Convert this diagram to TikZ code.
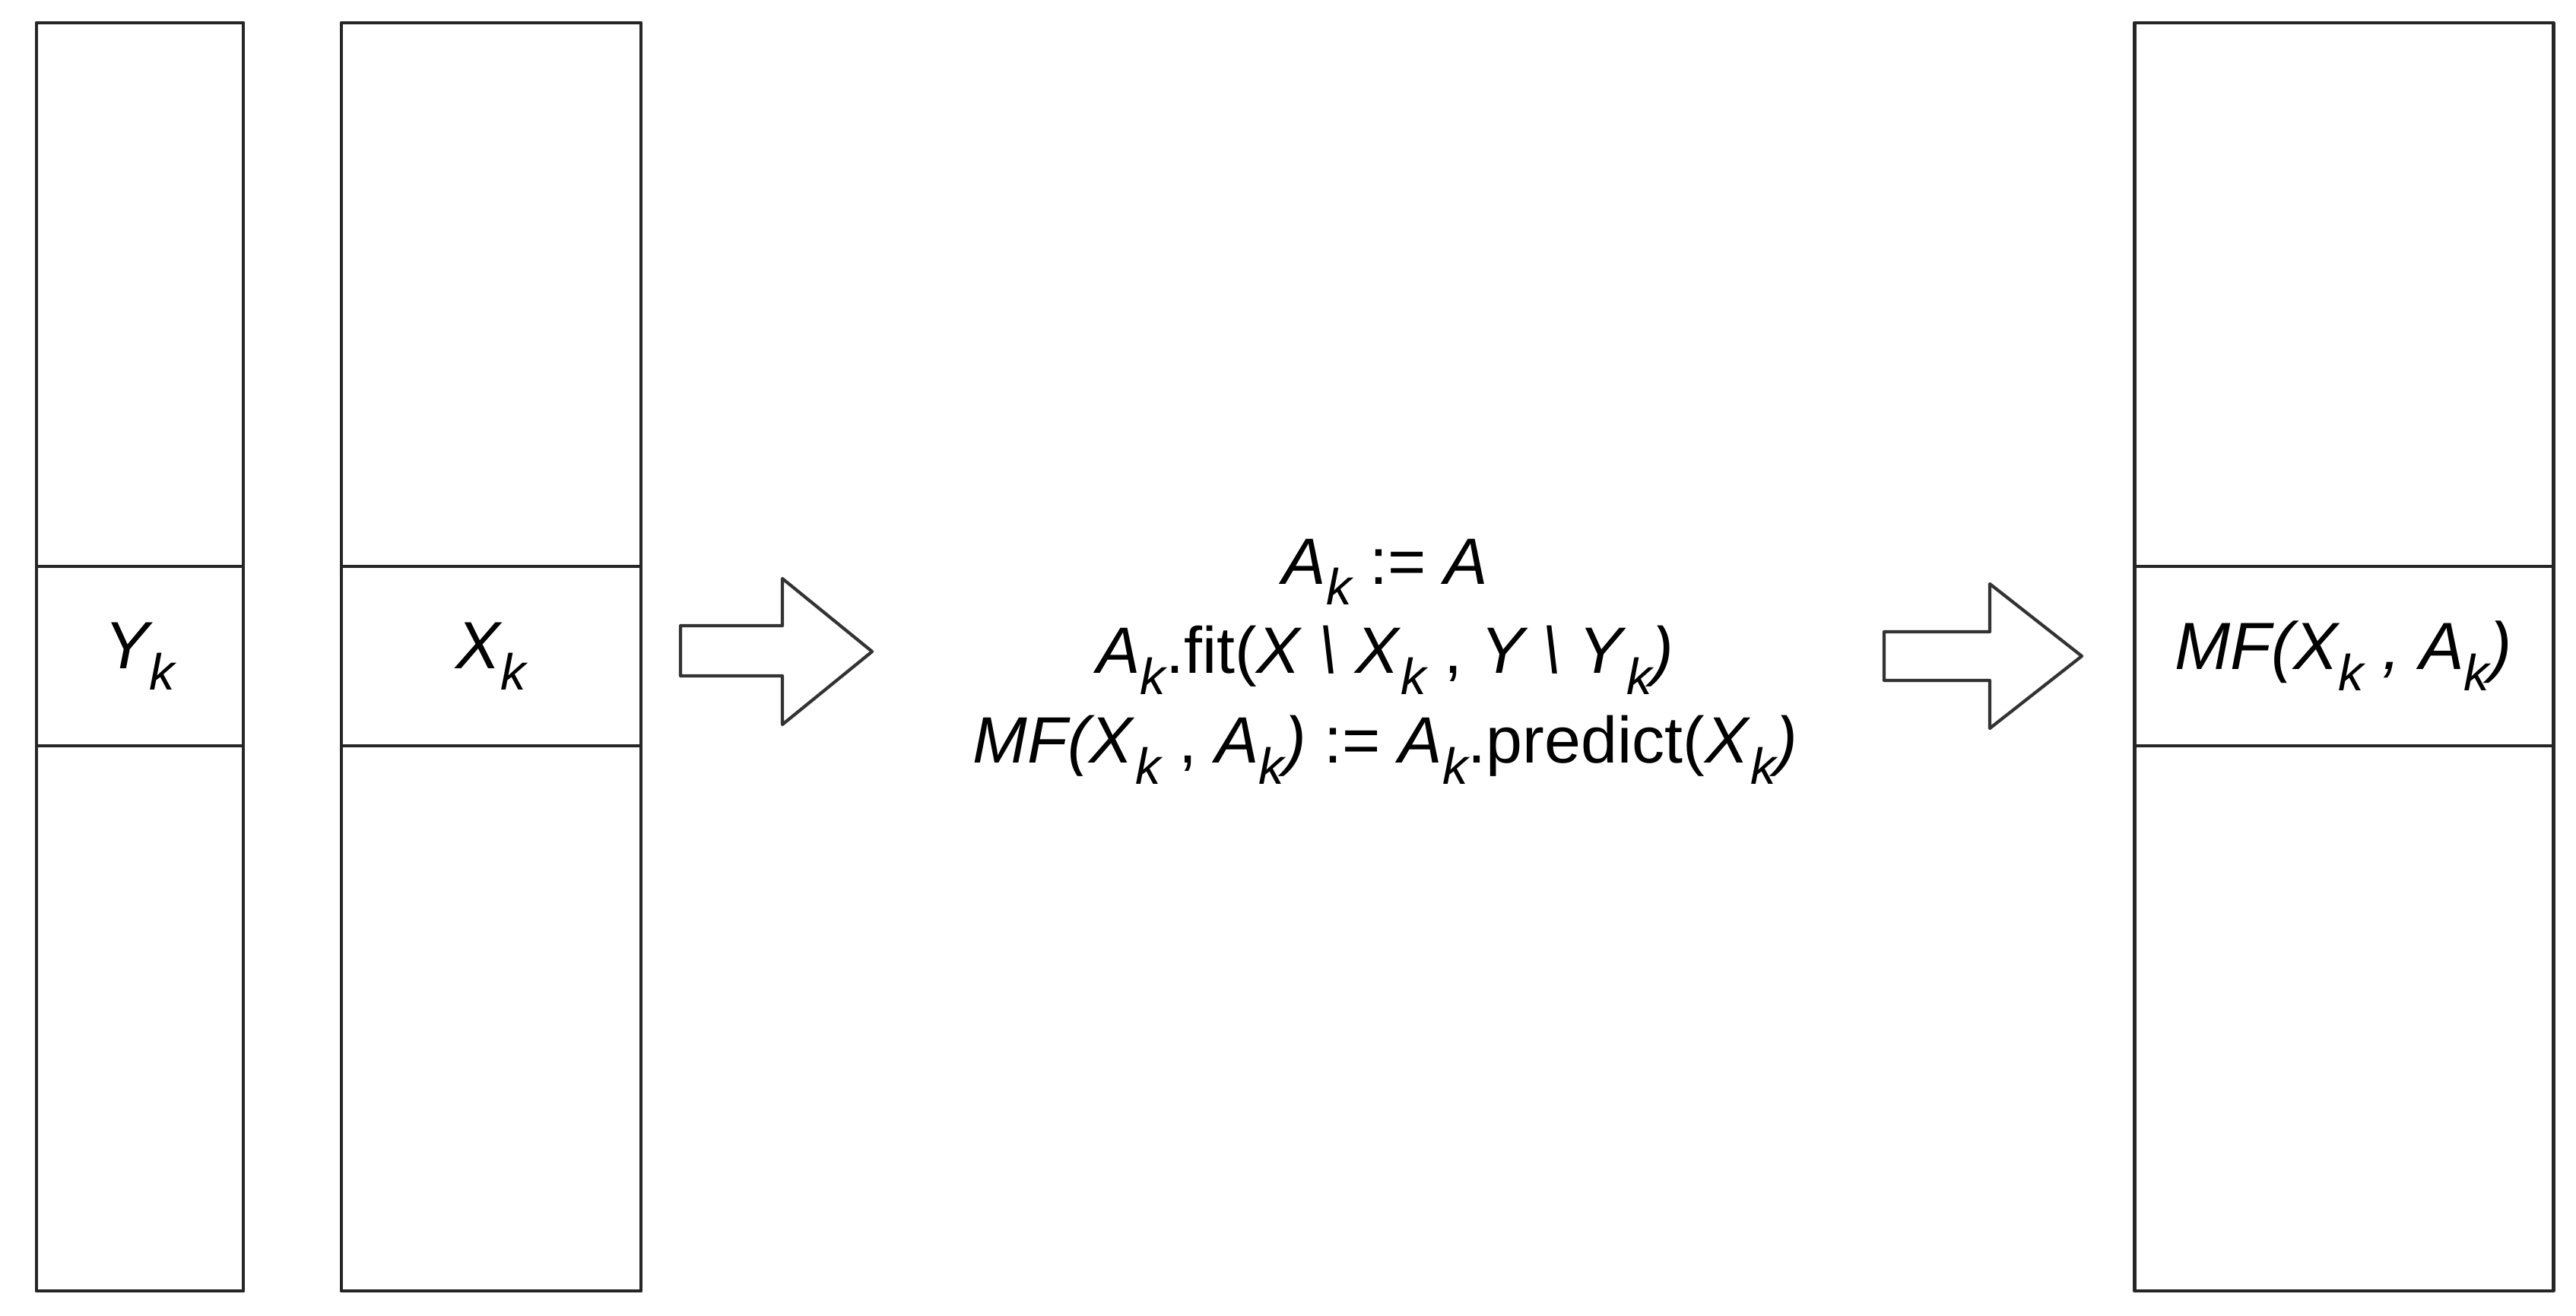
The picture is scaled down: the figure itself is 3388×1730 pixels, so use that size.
\documentclass[tikz,border=0pt]{standalone}
\usepackage{fontspec}
\setmainfont{Liberation Sans}
\newcommand{\lo}[1]{\raisebox{-0.32em}{\fontsize{19}{19}\selectfont\itshape #1}}

\begin{document}
\begin{tikzpicture}[x=0.01cm, y=-0.01cm, line join=round,
    col/.style={draw=black!85, line width=1.4pt},
    blockarrow/.style={draw=black!80, line width=1.2pt, fill=white},
    lbl/.style={font=\fontsize{25}{30}\selectfont\itshape},
    calc/.style={font=\fontsize{24.5}{33.5}\selectfont, align=center}]
    \useasboundingbox (0,0) rectangle (3388,1730);
    % the three columns, each with its k-th band
    \draw[col] (48,30) rectangle (320,1698);
    \draw[col] (48,745) -- (320,745) (48,981) -- (320,981);
    \draw[col] (449,30) rectangle (843,1698);
    \draw[col] (449,745) -- (843,745) (449,981) -- (843,981);
    \draw[col] (2807,30) rectangle (3358,1698);
    \draw[col] (2807,745) -- (3358,745) (2807,981) -- (3358,981);
    \node[lbl] (yk) at (184,863) {Y\lo{k}};
    \node[lbl] (xk) at (646,863) {X\lo{k}};
    \node[lbl] (mfk) at (3082,863) {MF(X\lo{k} , A\lo{k})};
    % block arrows
    \draw[blockarrow] (895,823) -- (1029,823) -- (1029,761) -- (1147,857) -- (1029,953) -- (1029,889) -- (895,889) -- cycle;
    \draw[blockarrow] (2478,831) -- (2617,831) -- (2617,768) -- (2738,863) -- (2617,958) -- (2617,895) -- (2478,895) -- cycle;
    % fit and predict
    \node[calc] (fitk) at (1822,870) {\textit{A}\lo{k} := \textit{A}\\
        \textit{A}\lo{k}.fit(\textit{X \textbackslash\ X}\lo{k} , \textit{Y \textbackslash\ Y}\lo{k}\textit{)}\\
        \textit{MF(X}\lo{k} , \textit{A}\lo{k}\textit{)} := \textit{A}\lo{k}.predict(\textit{X}\lo{k}\textit{)}};
\end{tikzpicture}
\end{document}
